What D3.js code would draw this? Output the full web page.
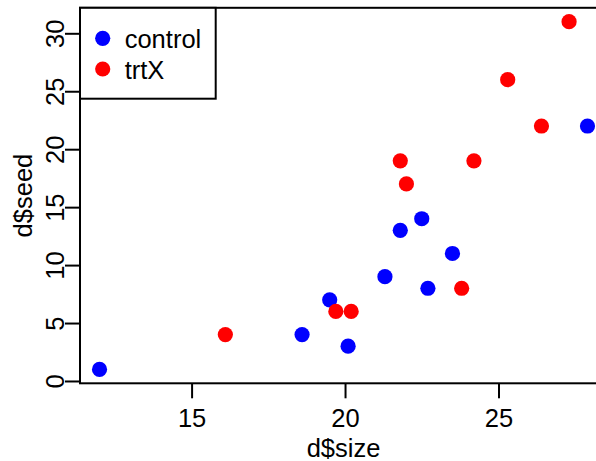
<!DOCTYPE html>
<html>
<head>
<meta charset="utf-8">
<script src="https://cdn.jsdelivr.net/npm/d3@7"></script>
<style>
  html, body { margin: 0; padding: 0; background: #fff; }
  svg { display: block; }
  text { font-family: "Liberation Sans", Arial, Helvetica, sans-serif; fill: #000; }
</style>
</head>
<body>
<svg id="chart" width="596" height="461"></svg>
<script>
// ---- data ----
const groups = ["control", "trtX"];
const groupColors = ["#0000ff", "#ff0000"];
const controlSize = [12.0, 27.9, 22.5, 21.8, 23.5, 21.3, 22.7, 19.5, 20.1, 18.6];
const controlSeed = [1, 22, 14, 13, 11, 9, 8, 7, 3, 4];
const trtSize = [27.3, 25.3, 26.4, 21.8, 24.2, 22.0, 23.8, 19.7, 20.2, 16.1];
const trtSeed = [31, 26, 22, 19, 19, 17, 8, 6, 6, 4];
const xTicks = [15, 20, 25];
const yTicks = [0, 5, 10, 15, 20, 25, 30];
const xLabel = "d$size";
const yLabel = "d$seed";

const svg = d3.select("#chart");
const fontSize = 25.5;

// R-style 4% extended limits
const allX = controlSize.concat(trtSize);
const allY = controlSeed.concat(trtSeed);
const xr = d3.extent(allX), yr = d3.extent(allY);
const xPad = (xr[1] - xr[0]) * 0.04, yPad = (yr[1] - yr[0]) * 0.04;

const plot = { left: 80, right: 607, top: 7.8, bottom: 383.3 };
const x = d3.scaleLinear().domain([xr[0] - xPad, xr[1] + xPad]).range([plot.left, plot.right]);
const y = d3.scaleLinear().domain([yr[0] - yPad, yr[1] + yPad]).range([plot.bottom, plot.top]);

// points
const pts = [];
controlSize.forEach((s, i) => pts.push({ x: s, y: controlSeed[i], g: 0 }));
trtSize.forEach((s, i) => pts.push({ x: s, y: trtSeed[i], g: 1 }));
svg.append("g").selectAll("circle").data(pts).join("circle")
  .attr("cx", d => x(d.x)).attr("cy", d => y(d.y)).attr("r", 7.6)
  .attr("fill", d => groupColors[d.g]);

// box
svg.append("rect")
  .attr("x", plot.left).attr("y", plot.top)
  .attr("width", plot.right - plot.left).attr("height", plot.bottom - plot.top)
  .attr("fill", "none").attr("stroke", "#000").attr("stroke-width", 2);

// x axis
const xAxis = d3.axisBottom(x).tickValues(xTicks).tickSize(15).tickPadding(10).tickFormat(d3.format("d"));
const gx = svg.append("g").attr("transform", `translate(0,${plot.bottom})`).call(xAxis);
gx.select(".domain").remove();
gx.selectAll(".tick line").attr("stroke", "#000").attr("stroke-width", 2);
gx.selectAll(".tick text").attr("font-size", fontSize).attr("dy", null)
  .attr("y", 426.7 - plot.bottom).attr("font-family", null);

// y axis
const yAxis = d3.axisLeft(y).tickValues(yTicks).tickSize(15).tickFormat(d3.format("d"));
const gy = svg.append("g").attr("transform", `translate(${plot.left},0)`).call(yAxis);
gy.select(".domain").remove();
gy.selectAll(".tick line").attr("stroke", "#000").attr("stroke-width", 2);
gy.selectAll(".tick text").attr("font-size", fontSize).attr("font-family", null)
  .attr("x", null).attr("dy", null)
  .attr("text-anchor", "middle")
  .attr("transform", `translate(${63.5 - plot.left},0) rotate(-90)`);
// y axis line spans first to last tick
svg.append("line")
  .attr("x1", plot.left).attr("x2", plot.left)
  .attr("y1", y(yTicks[0])).attr("y2", y(yTicks[yTicks.length - 1]))
  .attr("stroke", "#000").attr("stroke-width", 2);

// axis titles
svg.append("text").attr("x", (plot.left + plot.right) / 2).attr("y", 456.5)
  .attr("text-anchor", "middle").attr("font-size", fontSize).text(xLabel);
svg.append("text")
  .attr("transform", `translate(31.5,${(plot.top + plot.bottom) / 2}) rotate(-90)`)
  .attr("text-anchor", "middle").attr("font-size", fontSize).text(yLabel);

// legend
const leg = svg.append("g");
leg.append("rect").attr("x", plot.left).attr("y", plot.top)
  .attr("width", 135.7).attr("height", 90.9)
  .attr("fill", "#fff").attr("stroke", "#000").attr("stroke-width", 2);
groups.forEach((g, i) => {
  const cy = 38.3 + i * 30.7;
  leg.append("circle").attr("cx", 102.7).attr("cy", cy).attr("r", 7.6).attr("fill", groupColors[i]);
  leg.append("text").attr("x", 124.7).attr("y", cy + 10).attr("font-size", fontSize).text(g);
});
</script>
</body>
</html>
